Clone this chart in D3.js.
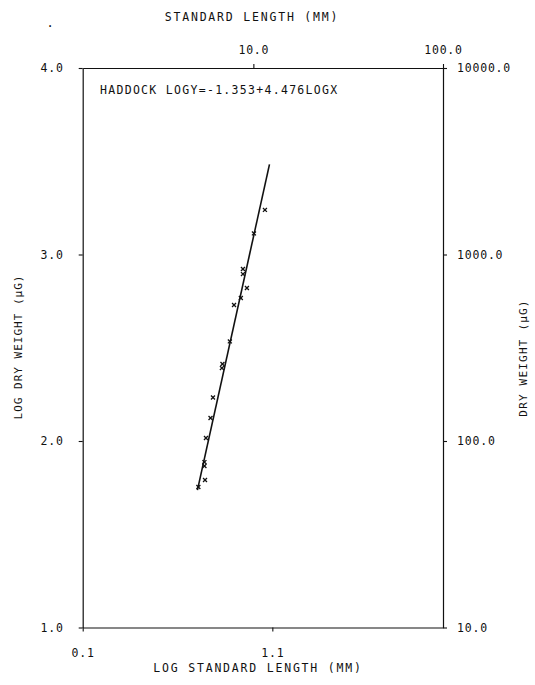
<!DOCTYPE html>
<html>
<head>
<meta charset="utf-8">
<script src="https://cdn.jsdelivr.net/npm/d3@7"></script>
<style>
  body { margin: 0; background: #fff; }
  text { font-family: "DejaVu Sans Mono", monospace; fill: #111; }
</style>
</head>
<body>
<script>
// haddock length / dry weight
var logLen = [1.061, 1.003, 0.945, 0.945, 0.966, 0.934, 0.898, 0.876, 0.837, 0.834, 0.787, 0.774, 0.750, 0.742, 0.742, 0.745, 0.710];
var logWt  = [3.239, 3.113, 2.922, 2.895, 2.820, 2.767, 2.729, 2.534, 2.413, 2.391, 2.233, 2.123, 2.016, 1.887, 1.866, 1.791, 1.753];

// fitted line end points
var fitX = [0.705, 1.085];
var fitY = [1.737, 3.483];

var bottomTicks = [0.1, 1.1];
var leftTicks = [1, 2, 3, 4];
var topTicks = [10, 100];
var rightTicks = [10, 100, 1000, 10000];

var width = 535, height = 685;
var margin = {left: 82.7, top: 68, right: 92, bottom: 57.5};
var w = width - margin.left - margin.right, h = height - margin.top - margin.bottom;

var svg = d3.select('body').append('svg').attr('width', width).attr('height', height);
var g = svg.append('g').attr('transform', 'translate(' + margin.left + ',' + margin.top + ')');

var x = d3.scaleLinear().domain([0.1, 2.0]).range([0, w]);
var y = d3.scaleLinear().domain([1, 4]).range([h, 0]);
var xTop = d3.scaleLog().domain([Math.pow(10, 0.1), 100]).range([0, w]);
var yRight = d3.scaleLog().domain([10, 10000]).range([h, 0]);

var f = d3.format('.1f');

function styleAxis(sel) {
    sel.select('.domain').attr('stroke', '#111').attr('stroke-width', 1.2);
    sel.selectAll('.tick line').attr('stroke', '#111').attr('stroke-width', 1.1);
    sel.selectAll('.tick text').style('font-size', '11.5px').style('letter-spacing', '0.8px').attr('fill', '#111');
}

g.append('g').attr('transform', 'translate(0,' + h + ')')
    .call(d3.axisBottom(x).tickValues(bottomTicks).tickFormat(f).tickSize(4).tickSizeOuter(0).tickPadding(17))
    .call(styleAxis);
g.append('g')
    .call(d3.axisLeft(y).tickValues(leftTicks).tickFormat(f).tickSize(4).tickSizeOuter(0).tickPadding(15))
    .call(styleAxis);
g.append('g')
    .call(d3.axisTop(xTop).tickValues(topTicks).tickFormat(f).tickSize(4).tickSizeOuter(0).tickPadding(10))
    .call(styleAxis);
g.append('g').attr('transform', 'translate(' + w + ',0)')
    .call(d3.axisRight(yRight).tickValues(rightTicks).tickFormat(f).tickSize(4).tickSizeOuter(0).tickPadding(10))
    .call(styleAxis);

// regression line
var line = d3.line().x(function(d) { return x(d[0]); }).y(function(d) { return y(d[1]); });
g.append('path')
    .attr('fill', 'none')
    .attr('stroke', '#111')
    .attr('stroke-width', 1.6)
    .attr('d', line(d3.zip(fitX, fitY)));

// points as small x marks
var cross = d3.symbol().type(d3.symbolTimes).size(12);
g.selectAll('.pt').data(d3.zip(logLen, logWt))
  .enter()
  .append('path')
    .attr('class', 'pt')
    .attr('d', cross)
    .attr('transform', function(d) { return 'translate(' + x(d[0]) + ',' + y(d[1]) + ')'; })
    .attr('fill', 'none')
    .attr('stroke', '#111')
    .attr('stroke-width', 1.3);

// titles
svg.append('text').attr('x', 252).attr('y', 21).attr('text-anchor', 'middle')
    .style('font-size', '11.5px').style('letter-spacing', '1.8px').text('STANDARD LENGTH (MM)');
svg.append('text').attr('x', 50).attr('y', 27).attr('text-anchor', 'middle')
    .style('font-size', '12px').text('.');
svg.append('text').attr('x', 258).attr('y', 672).attr('text-anchor', 'middle')
    .style('font-size', '11.5px').style('letter-spacing', '1.8px').text('LOG STANDARD LENGTH (MM)');
svg.append('text').attr('transform', 'translate(22,347) rotate(-90)').attr('text-anchor', 'middle')
    .style('font-size', '11px').style('letter-spacing', '1px').text('LOG DRY WEIGHT (µG)');
svg.append('text').attr('transform', 'translate(527,358) rotate(-90)').attr('text-anchor', 'middle')
    .style('font-size', '11px').style('letter-spacing', '1.2px').text('DRY WEIGHT (µG)');
svg.append('text').attr('x', 100).attr('y', 94)
    .style('font-size', '11.5px').style('letter-spacing', '1.3px').text('HADDOCK LOGY=-1.353+4.476LOGX');
</script>
</body>
</html>
